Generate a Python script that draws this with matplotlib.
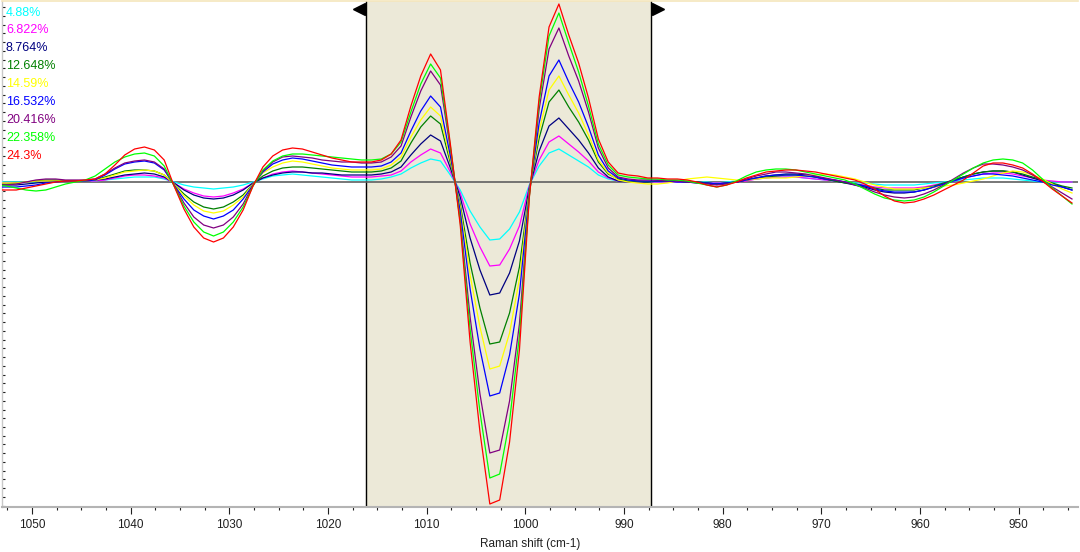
import numpy as np
import matplotlib
matplotlib.use("Agg")
import matplotlib.pyplot as plt
from matplotlib.ticker import MultipleLocator, NullFormatter

plt.rcParams["font.family"] = ["Liberation Sans", "DejaVu Sans"]

# wavenumber grid (cm-1), one sample per wavenumber
shift = np.arange(1053.6, 944.5, -1.0)

labels = ["4.88%", "6.822%", "8.764%", "12.648%", "14.59%",
          "16.532%", "20.416%", "22.358%", "24.3%"]
colors = ["#00ffff", "#ff00ff", "#000080", "#008000", "#ffff00",
          "#0000ff", "#800080", "#00ff00", "#ff0000"]

# second-derivative intensities (arbitrary units)
cyan = [0, 0, 0, 0, 0, 1, 1, 1, 1, 1, 1, 2, 3, 4, 5, 5, 5, 3,
        0, -3, -5, -6, -7, -6, -5, -3, 0,
        3, 6, 7, 8, 7, 6, 5, 4, 3,
        2, 2, 2, 3, 5, 8, 14, 19, 23, 21, 7, -8, -29, -45, -58, -57, -47, -30, -3,
        16, 29, 33, 27, 21, 15, 7, 3, 1, 0, 0, 0,
        0, 0, 0, 0, 0, 0, -1, 0, 1, 2, 3, 4, 5, 5, 5, 4, 3, 2, 1, 0,
        -1, -1, -2, -3, -3, -3, -3, -2, -1, 0, 1, 2, 3, 4, 4, 4, 3, 2, 1, 0, 0, 0, 0]
magenta = [-1, -1, -1, 0, 1, 1, 1, 1, 1, 1, 1, 2, 4, 6, 7, 7, 6, 4,
           -1, -7, -11, -14, -15, -14, -11, -7, -1,
           4, 8, 10, 11, 10, 9, 8, 7, 6,
           5, 5, 5, 6, 7, 11, 20, 27, 33, 29, 10, -11, -42, -65, -84, -83, -67, -44, -4,
           22, 40, 46, 38, 30, 21, 10, 4, 1, 0, 0, 0,
           0, 0, 0, 0, 0, -1, -1, -1, 0, 1, 3, 4, 5, 5, 5, 4, 3, 2, 1, 0,
           -2, -3, -5, -6, -6, -6, -6, -5, -3, -1, 1, 4, 6, 8, 9, 9, 8, 6, 4, 2, 1, 0, 0]
navy = [-3, -3, -3, -2, -1, 0, 1, 1, 1, 1, 2, 3, 5, 7, 8, 9, 8, 5,
        -1, -8, -13, -16, -17, -16, -13, -8, -1,
        4, 7, 9, 10, 10, 9, 9, 8, 7,
        7, 7, 7, 8, 10, 15, 27, 38, 47, 41, 14, -15, -56, -88, -113, -111, -91, -59, -6,
        31, 56, 64, 53, 42, 29, 14, 5, 1, 0, 0, 0,
        1, 1, 1, 0, 0, -1, -2, -1, 0, 2, 4, 6, 7, 8, 8, 7, 5, 3, 1, -1,
        -3, -5, -8, -10, -11, -11, -10, -8, -5, -2, 2, 5, 8, 10, 11, 11, 10, 7, 4, 1, -2, -5, -8]
dgreen = [-2, -2, -1, 0, 1, 2, 2, 1, 1, 1, 2, 5, 8, 11, 12, 12, 11, 7,
          -2, -12, -20, -25, -27, -25, -20, -13, -2,
          6, 11, 14, 15, 15, 14, 13, 12, 11,
          10, 10, 10, 11, 14, 21, 39, 55, 66, 58, 19, -22, -81, -126, -162, -160, -131, -85, -8,
          44, 80, 92, 75, 60, 42, 20, 8, 3, 1, 1, 0,
          1, 1, 1, 0, 0, -1, -2, -1, 0, 2, 4, 5, 6, 7, 7, 6, 5, 3, 1, -1,
          -2, -4, -6, -8, -8, -8, -8, -6, -4, -1, 2, 5, 8, 10, 11, 11, 10, 8, 5, 2, -1, -4, -6]
yellow = [-1, -1, -1, 0, 1, 1, 1, 1, 1, 1, 2, 4, 7, 10, 11, 12, 11, 7,
          -2, -14, -23, -29, -31, -29, -23, -15, -2,
          9, 15, 19, 21, 20, 18, 16, 14, 13,
          12, 12, 12, 13, 17, 25, 45, 62, 75, 66, 22, -25, -93, -145, -187, -184, -151, -97, -9,
          51, 92, 106, 87, 69, 47, 22, 9, 2, 0, -1, -2,
          -2, -1, 1, 3, 4, 5, 4, 3, 2, 2, 3, 4, 4, 4, 5, 6, 7, 8, 7, 5,
          3, 0, -3, -5, -7, -7, -7, -6, -5, -4, -3, -1, 1, 3, 6, 9, 11, 10, 7, 3, -2, -7, -11]
blue = [-5, -5, -5, -4, -3, -1, 0, 1, 1, 1, 2, 7, 13, 18, 20, 21, 19, 12,
        -3, -17, -28, -34, -37, -34, -28, -17, -3,
        10, 18, 22, 24, 23, 21, 19, 17, 16,
        15, 15, 15, 16, 20, 29, 51, 71, 86, 75, 26, -29, -107, -167, -214, -211, -173, -112, -11,
        59, 106, 122, 100, 80, 55, 27, 11, 4, 2, 1, 1,
        1, 1, 0, 0, -1, -1, -2, -1, 0, 2, 4, 6, 7, 7, 7, 6, 5, 3, 2, 0,
        -2, -4, -7, -9, -10, -10, -10, -8, -5, -2, 1, 4, 6, 8, 8, 7, 6, 4, 2, 0, -3, -5, -8]
purple = [-3, -3, -2, 0, 2, 3, 3, 2, 2, 2, 3, 8, 14, 19, 21, 22, 20, 13,
          -3, -21, -35, -43, -46, -43, -35, -22, -3,
          11, 20, 25, 26, 25, 24, 22, 21, 20,
          20, 19, 19, 20, 25, 36, 65, 91, 111, 97, 33, -37, -135, -212, -271, -268, -219, -142, -14,
          73, 133, 154, 126, 101, 70, 34, 14, 5, 3, 2, 2,
          2, 1, 1, 0, -1, -2, -3, -2, 0, 3, 6, 8, 10, 10, 9, 8, 6, 4, 2, 0,
          -3, -6, -10, -13, -15, -16, -15, -12, -8, -3, 3, 9, 14, 18, 18, 17, 15, 12, 7, 1, -5, -11, -17]
lime = [-3, -4, -6, -8, -9, -8, -5, -2, 0, 2, 6, 13, 20, 25, 28, 29, 26, 16,
        -4, -24, -40, -50, -54, -50, -40, -25, -4,
        12, 21, 26, 28, 28, 27, 26, 25, 24,
        23, 22, 22, 23, 28, 40, 70, 98, 118, 104, 36, -40, -147, -230, -296, -292, -239, -154, -15,
        80, 146, 169, 139, 110, 76, 38, 17, 7, 5, 4, 3,
        3, 2, 2, 1, -1, -3, -5, -3, 1, 6, 10, 12, 13, 13, 12, 10, 8, 6, 4, 2,
        -2, -7, -12, -16, -18, -19, -18, -15, -10, -4, 2, 8, 14, 19, 22, 23, 22, 19, 12, 3, -6, -14, -22]
red = [-8, -8, -8, -6, -4, -2, 0, 1, 1, 2, 3, 8, 17, 27, 33, 35, 32, 22,
       -4, -27, -45, -56, -60, -56, -45, -28, -4,
       15, 26, 32, 34, 33, 30, 27, 24, 22,
       20, 20, 20, 22, 28, 42, 76, 106, 128, 112, 38, -43, -160, -250, -322, -318, -260, -168, -16,
       85, 155, 178, 147, 119, 84, 43, 20, 9, 7, 6, 4,
       4, 3, 3, 2, 0, -3, -5, -3, 0, 4, 7, 10, 11, 12, 12, 11, 10, 8, 6, 4,
       2, -2, -7, -14, -19, -21, -20, -17, -13, -8, -3, 2, 9, 16, 19, 19, 17, 14, 8, 1, -7, -14, -21]

series = [cyan, magenta, navy, dgreen, yellow, blue, purple, lime, red]

# selected region (cm-1)
region = (1016.1, 987.3)

fig = plt.figure(figsize=(10.8, 5.52), dpi=100)
ax = fig.add_axes([2 / 1080, 45 / 552, 1076 / 1080, 506 / 552])

ax.axvspan(region[1], region[0], color="#ece9d8", zorder=0)
ax.axvline(region[0], color="black", lw=1, zorder=1)
ax.axvline(region[1], color="black", lw=1, zorder=1)
ax.axhline(0, color="#606060", lw=1.2, zorder=2)

for vals, c in zip(series, colors):
    ax.plot(shift, vals, color=c, lw=0.9, zorder=3)

# region handles at the top
ax.plot([region[0] + 0.75], [0.984], marker="<", color="black", ms=9,
        transform=ax.get_xaxis_transform(), clip_on=False, zorder=5)
ax.plot([region[1] - 0.75], [0.984], marker=">", color="black", ms=9,
        transform=ax.get_xaxis_transform(), clip_on=False, zorder=5)

ax.set_xlim(1053.04, 943.99)
ax.set_ylim(-325, 181)

ax.xaxis.set_major_locator(MultipleLocator(10))
ax.xaxis.set_minor_locator(MultipleLocator(2.5))
ax.yaxis.set_major_locator(MultipleLocator(8.75))
ax.yaxis.set_major_formatter(NullFormatter())
ax.tick_params(axis="x", which="major", direction="out", length=5, width=0.8,
               color="#202020", labelsize=8.5, pad=4, labelcolor="#202020")
ax.tick_params(axis="x", which="minor", direction="out", length=2.5, width=0.8,
               color="#202020")
ax.tick_params(axis="y", which="major", direction="in", length=2.5, width=0.8,
               color="#202020")

ax.spines["right"].set_visible(False)
ax.spines["top"].set_color("#f5e6bc")
ax.spines["top"].set_linewidth(1.2)
ax.spines["bottom"].set_color("#b4b4b4")
ax.spines["bottom"].set_linewidth(1.5)
ax.spines["left"].set_color("#c8c8c8")
ax.spines["left"].set_linewidth(1)

# legend as coloured text in the top-left corner
for i, (lab, c) in enumerate(zip(labels, colors)):
    fig.text(6 / 1080, 1 - (12.5 + 17.9 * i) / 552, lab, color=c, fontsize=9,
             ha="left", va="center")

fig.text(530 / 1080, 1 - 544 / 552, "Raman shift (cm-1)", fontsize=8.5,
         ha="center", va="center", color="#202020")

fig.savefig("out.png", dpi=100)
